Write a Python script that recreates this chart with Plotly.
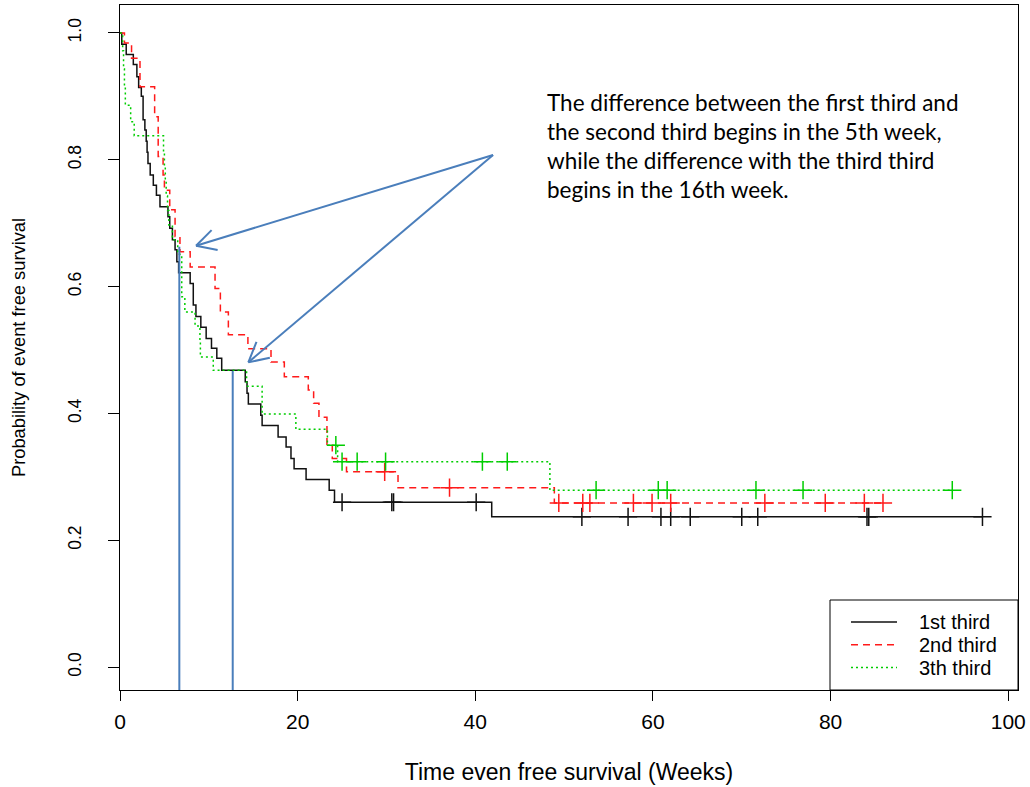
import numpy as np
import plotly.graph_objects as go

# ---------------- data ----------------
series_names = ["1st third", "2nd third", "3th third"]

# 1st third: event times (weeks) and survival after each event
t1 = [0.2, 0.7, 1.5, 1.9, 2.1, 2.4, 2.6, 2.8, 2.95, 3.05, 3.15, 3.4, 3.75, 4.1, 4.5,
      5.4, 5.6, 5.9, 6.2, 6.4, 6.6, 7.9, 8.25, 8.55, 9.1, 9.7, 10.3, 10.9, 11.45,
      14.1, 14.3, 14.45, 15.85, 16.0, 17.8, 18.7, 19.25, 19.6, 20.95, 23.55, 24.15, 41.85]
s1 = [0.982, 0.966, 0.950, 0.931, 0.914, 0.900, 0.863, 0.847, 0.829, 0.812, 0.794, 0.776, 0.760, 0.744, 0.726,
      0.710, 0.692, 0.674, 0.658, 0.639, 0.622, 0.605, 0.571, 0.553, 0.536, 0.518, 0.503, 0.487, 0.468,
      0.450, 0.432, 0.415, 0.397, 0.381, 0.363, 0.347, 0.329, 0.313, 0.296, 0.279, 0.260, 0.237]
c1 = [25.0, 30.6, 30.8, 40.1, 52.0, 57.2, 60.9, 62.0, 64.2, 70.0, 71.8, 84.1, 84.3, 97.1]

# 2nd third
t2 = [0.5, 1.3, 2.25, 3.9, 4.3, 4.85, 5.0, 5.6, 6.2, 6.75, 7.9, 10.7, 11.3, 12.2, 14.4,
      17.0, 18.5, 21.2, 21.8, 22.4, 23.3, 23.9, 25.5, 31.3, 48.9]
s2 = [0.984, 0.960, 0.915, 0.868, 0.805, 0.776, 0.752, 0.721, 0.679, 0.655, 0.631, 0.597, 0.560, 0.524, 0.502,
      0.481, 0.458, 0.437, 0.416, 0.394, 0.350, 0.329, 0.308, 0.283, 0.259]
c2 = [29.8, 37.1, 49.4, 52.1, 52.9, 57.8, 59.9, 62.0, 72.6, 79.4, 83.8, 85.9]

# 3th third
t3 = [0.3, 0.4, 0.5, 0.6, 1.2, 1.6, 4.9, 5.0, 5.1, 5.2, 5.35, 5.5, 5.9, 6.5, 6.95, 7.3,
      8.45, 9.0, 9.05, 10.5, 14.25, 16.0, 19.8, 23.35, 24.5, 48.4]
s3 = [0.972, 0.943, 0.914, 0.886, 0.860, 0.838, 0.812, 0.789, 0.766, 0.743, 0.720, 0.697, 0.674, 0.651, 0.584, 0.560,
      0.538, 0.513, 0.489, 0.468, 0.443, 0.399, 0.375, 0.350, 0.324, 0.279]
c3 = [24.3, 25.0, 26.7, 29.9, 40.8, 43.6, 53.6, 60.6, 61.6, 71.6, 76.9, 93.7]

# annotation values
marker_weeks = [6.68, 12.69]          # blue vertical lines
marker_levels = [0.663, 0.467]
arrow_tail = (42.0, 0.8076)
arrow_heads = [(8.56, 0.6645), (14.45, 0.4806)]
note_lines = ["The difference between the first third and",
              "the second third begins in the 5th week,",
              "while the difference with the third third",
              "begins in the 16th week."]

x_ticks = [0, 20, 40, 60, 80, 100]
y_ticks = [0.0, 0.2, 0.4, 0.6, 0.8, 1.0]
y_tick_text = ["0.0", "0.2", "0.4", "0.6", "0.8", "1.0"]

# ---------------- styling ----------------
colors = ["#111111", "#FF1A1A", "#00CD00"]
dashes = ["solid", "7px,5px", "2px,3px"]
blue = "#4A7EBB"
XR = [0, 101.1]
YR = [-0.036, 1.044]
W, H = 1030, 787
ML, MR, MT, MB = 120, 12, 5, 97
pw, ph = W - ML - MR, H - MT - MB
px_per_x = pw / (XR[1] - XR[0])
px_per_y = ph / (YR[1] - YR[0])
FONT = "Liberation Sans, Arial"

fig = go.Figure()


def surv_at(times, surv, q):
    idx = np.searchsorted(np.array(times), np.array(q), side="right") - 1
    s = np.array(surv)
    return np.where(idx < 0, 1.0, s[np.clip(idx, 0, None)])


for name, t, s, c, col, d in zip(series_names, [t1, t2, t3], [s1, s2, s3], [c1, c2, c3], colors, dashes):
    end = max(c)
    xs = [0.0] + list(t) + [end]
    ys = [1.0] + list(s) + [s[-1]]
    fig.add_trace(go.Scatter(x=xs, y=ys, mode="lines", name=name, showlegend=False,
                             line=dict(color=col, width=1.5, dash=d, shape="hv")))
    fig.add_trace(go.Scatter(x=c, y=surv_at(t, s, c), mode="markers", showlegend=False,
                             marker=dict(symbol="cross-thin", size=13,
                                         line=dict(color=col, width=1.5))))

# blue vertical lines
for wx, lv in zip(marker_weeks, marker_levels):
    fig.add_shape(type="line", xref="x", yref="y", x0=wx, x1=wx, y0=YR[0], y1=lv,
                  line=dict(color=blue, width=2))

# arrows with open heads
for hx, hy in arrow_heads:
    fig.add_shape(type="line", xref="x", yref="y", x0=arrow_tail[0], y0=arrow_tail[1], x1=hx, y1=hy,
                  line=dict(color=blue, width=2))
    dxp = (arrow_tail[0] - hx) * px_per_x
    dyp = (arrow_tail[1] - hy) * px_per_y
    ang = np.arctan2(dyp, dxp)
    L = 22
    for da in (np.radians(28), -np.radians(28)):
        bx = hx + L * np.cos(ang + da) / px_per_x
        by = hy + L * np.sin(ang + da) / px_per_y
        fig.add_shape(type="line", xref="x", yref="y", x0=hx, y0=hy, x1=bx, y1=by,
                      line=dict(color=blue, width=2))

# note text
for i, line in enumerate(note_lines):
    ypix = 102 + i * 29.3
    fig.add_annotation(text=line, xref="paper", yref="paper",
                       x=(545 - ML) / pw, y=(H - MB - ypix) / ph,
                       xanchor="left", yanchor="middle", showarrow=False,
                       font=dict(family="Lato", size=22.5, color="#000000"))


# legend box drawn in paper coordinates
def px2paper(xp, yp):
    return (xp - ML) / pw, (H - MB - yp) / ph


bx0, by0 = px2paper(830, 690)
bx1, by1 = px2paper(1018, 600)
fig.add_shape(type="rect", xref="paper", yref="paper", x0=bx0, y0=by0, x1=bx1, y1=by1,
              line=dict(color="#000000", width=1), fillcolor="white", layer="above")
for i, (name, col, d) in enumerate(zip(series_names, colors, dashes)):
    yp = 622 + i * 22.8
    lx0, ly = px2paper(851, yp)
    lx1, _ = px2paper(897, yp)
    fig.add_shape(type="line", xref="paper", yref="paper", x0=lx0, x1=lx1, y0=ly, y1=ly,
                  line=dict(color=col, width=1.5, dash=d), layer="above")
    tx, _ = px2paper(917, yp)
    fig.add_annotation(text=name, xref="paper", yref="paper", x=tx, y=ly,
                       xanchor="left", yanchor="middle", showarrow=False,
                       font=dict(family=FONT, size=20, color="#000000"))

fig.update_layout(
    width=W, height=H,
    margin=dict(l=ML, r=MR, t=MT, b=MB, autoexpand=False),
    paper_bgcolor="white", plot_bgcolor="white",
    showlegend=False,
    xaxis=dict(range=XR, tickvals=x_ticks, showgrid=False, zeroline=False, automargin=False,
               showline=True, linecolor="#000000", linewidth=1, mirror=True,
               ticks="outside", ticklen=10, tickcolor="#000000",
               tickfont=dict(family=FONT, size=21, color="#000000"),
               ticklabelstandoff=3,
               title=dict(text="Time even free survival (Weeks)",
                          font=dict(family=FONT, size=23, color="#000000"),
                          standoff=31)),
    yaxis=dict(range=YR, tickvals=y_ticks, ticktext=y_tick_text, showgrid=False, zeroline=False,
               automargin=False,
               showline=True, linecolor="#000000", linewidth=1, mirror=True,
               ticks="outside", ticklen=11, tickcolor="#000000",
               tickfont=dict(family=FONT, size=17.5, color="#000000"),
               tickangle=-90, ticklabelstandoff=20,
               title=dict(text="Probability of event free survival",
                          font=dict(family=FONT, size=18.3, color="#000000"),
                          standoff=34)),
)

fig.write_html("out.html", config={"displayModeBar": False},
               post_script="document.body.style.margin='0';document.body.style.overflow='hidden';")
